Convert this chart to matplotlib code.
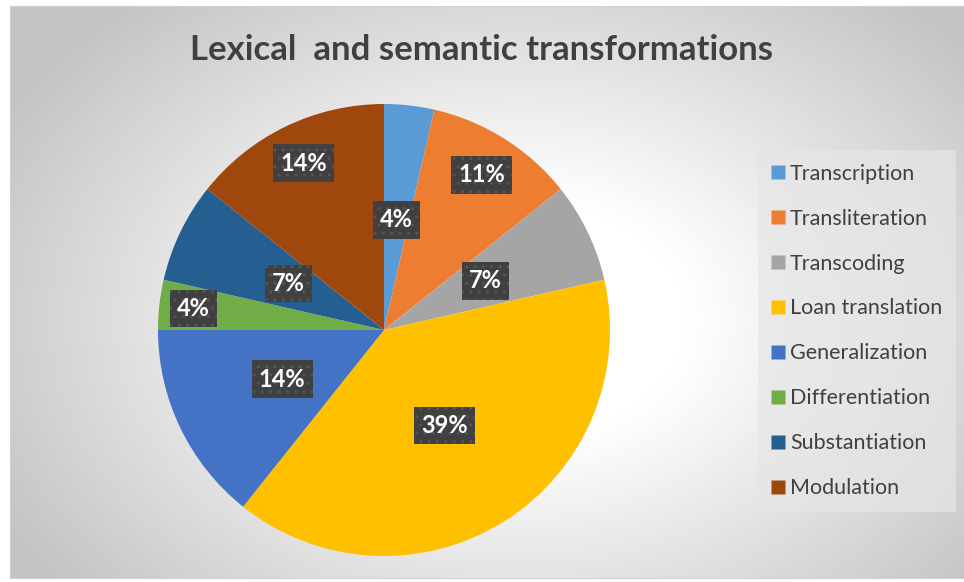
import numpy as np
import matplotlib.pyplot as plt
from matplotlib.lines import Line2D

# data
categories = ["Transcription", "Transliteration", "Transcoding", "Loan translation",
              "Generalization", "Differentiation", "Substantiation", "Modulation"]
counts = [1, 3, 2, 11, 4, 1, 2, 4]
colors = ["#5B9BD5", "#ED7D31", "#A5A5A5", "#FFC000",
          "#4472C4", "#70AD47", "#255E91", "#9E480E"]
# radial position of each percentage label (fraction of radius)
label_r = [0.49, 0.81, 0.5, 0.5, 0.5, 0.85, 0.47, 0.82]

plt.rcParams['font.family'] = ['Lato', 'DejaVu Sans']
plt.rcParams['hatch.linewidth'] = 1.0

W, H = 964, 582
fig = plt.figure(figsize=(W / 100, H / 100), dpi=100)
fig.patch.set_facecolor('white')

# background panel with radial gradient
x0, y0, x1, y1 = 10, 6, 964, 578
bg = fig.add_axes([x0 / W, 1 - y1 / H, (x1 - x0) / W, (y1 - y0) / H])
gx, gy = np.meshgrid(np.linspace(x0, x1, 400), np.linspace(y0, y1, 300))
d = np.sqrt(((gx - 520) / 560) ** 2 + ((gy - 320) / 400) ** 2)
shade = 1 - 0.23 * np.clip((d - 0.3) / 0.75, 0, 1)
img = np.dstack([shade, shade, shade])
bg.imshow(img, extent=[0, 1, 0, 1], aspect='auto', interpolation='bilinear')
bg.set_xticks([])
bg.set_yticks([])
for s in bg.spines.values():
    s.set_color('#d0d0d0')
    s.set_linewidth(0.8)

# pie
cx, cy, R = 384, 330, 226
ax = fig.add_axes([(cx - R) / W, 1 - (cy + R) / H, 2 * R / W, 2 * R / H])
ax.patch.set_alpha(0)
wedges, _ = ax.pie(counts, colors=colors, startangle=90, counterclock=False,
                   radius=1, wedgeprops=dict(linewidth=0))
ax.set_xlim(-1, 1)
ax.set_ylim(-1, 1)
ax.set_aspect('equal')

total = sum(counts)
for w, c, r in zip(wedges, counts, label_r):
    ang = np.deg2rad((w.theta1 + w.theta2) / 2)
    ax.text(r * np.cos(ang), r * np.sin(ang), f"{round(100 * c / total)}%",
            ha='center', va='center', color='white', fontsize=17, fontweight='bold',
            bbox=dict(boxstyle='square,pad=0.3', facecolor='#404040',
                      edgecolor='#555555', linewidth=0, hatch='..'))

fig.text(0.5, 1 - 50 / H, "Lexical  and semantic transformations", ha='center',
         va='center', fontsize=25, fontweight='bold', color='#404040')

handles = [Line2D([], [], marker='s', linestyle='none', markersize=9.5,
                  markerfacecolor=c, markeredgecolor='none') for c in colors]
leg = fig.legend(handles, categories, loc='upper left',
                 bbox_to_anchor=(758 / W, 1 - 150 / H), frameon=True,
                 fontsize=15.5, labelspacing=1.16, handlelength=0.6,
                 handletextpad=0.26, borderpad=0.63, borderaxespad=0,
                 labelcolor='#404040', fancybox=False)
leg.get_frame().set_facecolor('#e6e6e6')
leg.get_frame().set_alpha(0.7)
leg.get_frame().set_edgecolor('none')

fig.savefig('out.png', dpi=100)
